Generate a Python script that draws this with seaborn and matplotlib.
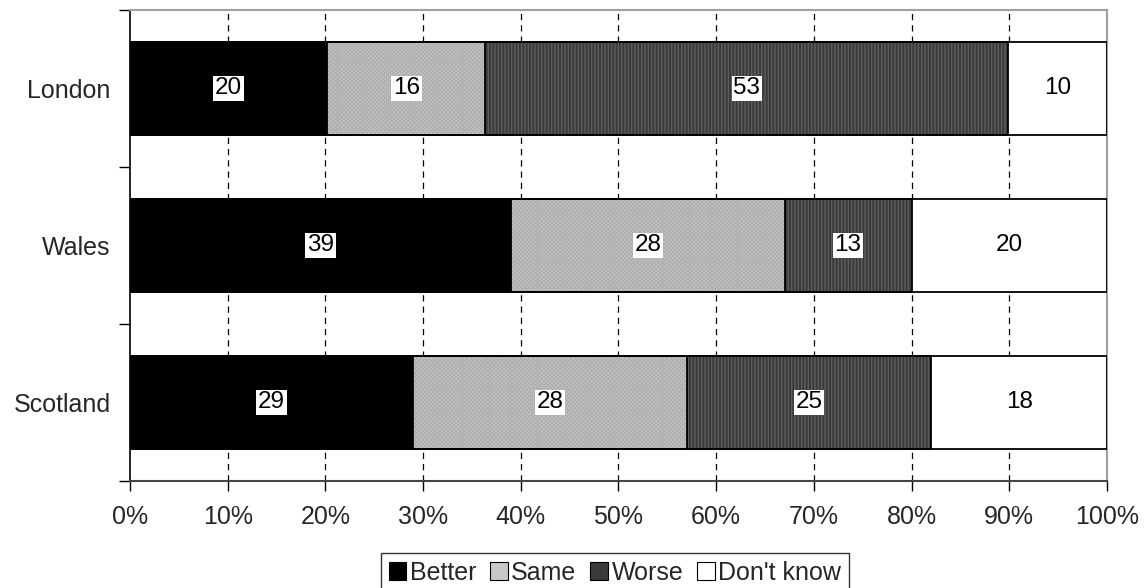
import matplotlib
matplotlib.use("Agg")
import matplotlib.pyplot as plt
import numpy as np
import pandas as pd
import seaborn as sns
from matplotlib.patches import Patch

# Survey answers by region (counts as printed in each segment)
regions = ["London", "Wales", "Scotland"]
responses = ["Better", "Same", "Worse", "Don't know"]
better = [20, 39, 29]
same = [16, 28, 28]
worse = [53, 13, 25]
dont_know = [10, 20, 18]

x_ticks = [0, 10, 20, 30, 40, 50, 60, 70, 80, 90, 100]

sns.set_theme(style="white")
plt.rcParams["font.family"] = ["Liberation Sans", "DejaVu Sans"]

df = pd.DataFrame({"Region": regions, "Better": better, "Same": same,
                   "Worse": worse, "Don't know": dont_know})
counts = df[responses]
shares = counts.div(counts.sum(axis=1), axis=0) * 100
cum = shares.cumsum(axis=1)
start = cum - shares

fill_color = {"Better": "#000000", "Same": "#c8c8c8", "Worse": "#3a3a3a", "Don't know": "#ffffff"}
hatch_color = {"Better": "#000000", "Same": "#b0b0b0", "Worse": "#5e5e5e", "Don't know": "#ffffff"}
hatch_style = {"Better": None, "Same": "xxxxxxxx", "Worse": "|||||", "Don't know": None}

FS_AXIS = 18
FS_LABEL = 17.5
BAR_W = 0.59

fig, ax = plt.subplots(figsize=(11.46, 5.88), dpi=100)
fig.subplots_adjust(left=0.1134, right=0.966, top=0.983, bottom=0.182)

plt.rcParams["hatch.linewidth"] = 1.0

# Stacked bars: draw cumulative totals from the right-most segment inward
for resp in reversed(responses):
    layer = pd.DataFrame({"Region": df["Region"], "value": cum[resp]})
    sns.barplot(data=layer, x="value", y="Region", orient="h", ax=ax,
                color=fill_color[resp], saturation=1, width=BAR_W,
                errorbar=None, hatch=hatch_style[resp],
                edgecolor=hatch_color[resp], linewidth=0, zorder=2)

# Black outlines for every segment
for resp in responses:
    layer = pd.DataFrame({"Region": df["Region"], "value": cum[resp]})
    sns.barplot(data=layer, x="value", y="Region", orient="h", ax=ax,
                color="black", fill=False, width=BAR_W, errorbar=None,
                linewidth=1.3, zorder=3)

# Value labels centred in each segment
for i in range(len(regions)):
    for resp in responses:
        xc = start.loc[i, resp] + shares.loc[i, resp] / 2
        ax.text(xc, i, str(counts.loc[i, resp]), ha="center", va="center",
                fontsize=FS_LABEL, color="black", zorder=5,
                bbox=dict(facecolor="white", edgecolor="none", pad=1.3))

ax.set_xlim(0, 100)
ax.set_ylim(len(regions) - 0.5, -0.5)
ax.set_xticks(x_ticks)
ax.set_xticklabels([f"{t}%" for t in x_ticks], fontsize=FS_AXIS)
ax.set_xlabel("")
ax.set_ylabel("")
ax.tick_params(axis="x", which="major", direction="out", length=7, width=1,
               color="black", pad=10, bottom=True)
ax.set_yticks(np.arange(len(regions)))
ax.set_yticklabels(regions, fontsize=FS_AXIS)
ax.set_yticks(np.arange(len(regions) + 1) - 0.5, minor=True)
ax.tick_params(axis="y", which="major", length=0, pad=14, left=True)
ax.tick_params(axis="y", which="minor", direction="out", length=8, width=1,
               color="black", left=True)

# Dashed vertical gridlines behind the bars
ax.set_axisbelow(True)
for t in x_ticks[1:-1]:
    ax.axvline(t, color="black", linestyle=(0, (5, 4)), linewidth=0.9, zorder=0)

for side in ["top", "right"]:
    ax.spines[side].set_visible(True)
    ax.spines[side].set_color("#a0a0a0")
    ax.spines[side].set_linewidth(1.5)
ax.spines["left"].set_color("black")
ax.spines["left"].set_linewidth(1.2)
ax.spines["bottom"].set_color("#444444")
ax.spines["bottom"].set_linewidth(1.5)

handles = [Patch(facecolor=fill_color[r], edgecolor="black", linewidth=0.8)
           for r in responses]
leg = fig.legend(handles, responses, loc="upper center", ncol=4,
                 bbox_to_anchor=(0.5365, 1 - 553 / 588), fontsize=FS_AXIS,
                 frameon=True, fancybox=False, edgecolor="black",
                 handlelength=0.7, handleheight=0.7, handletextpad=0.15,
                 columnspacing=0.55, borderpad=0.3, borderaxespad=0)
leg.get_frame().set_linewidth(1.0)

fig.savefig("out.png", dpi=100)
